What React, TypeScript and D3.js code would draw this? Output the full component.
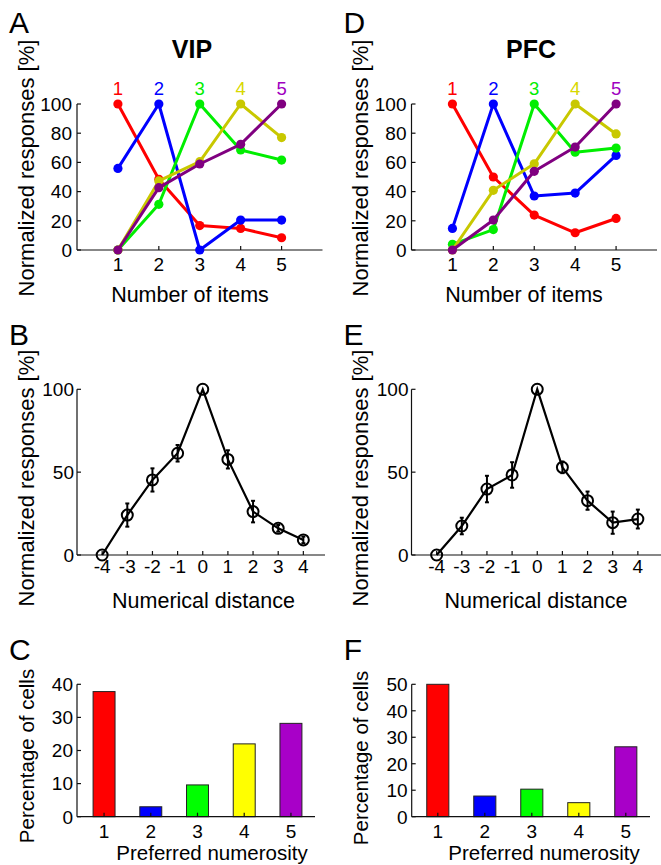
import * as d3 from "d3";

const items = [1, 2, 3, 4, 5];
const prefColors = ["#ff0000", "#0000ff", "#00ee00", "#c8c800", "#800080"];
const prefLabelColors = ["#ff0000", "#0000ff", "#00ee00", "#d8d800", "#a000c0"];

// normalized tuning curves, one row per preferred numerosity
const vipTuning = [
  [100, 48.4, 16.7, 14.8, 8.4],
  [55.9, 100, 0, 20.5, 20.5],
  [0, 31.3, 100, 68.5, 61.6],
  [0, 47.3, 60.5, 100, 77],
  [0, 42.7, 58.9, 72.4, 100],
];
const pfcTuning = [
  [100, 50, 23.9, 11.8, 21.6],
  [14.8, 100, 37, 39, 64.8],
  [3.9, 14, 100, 67, 69.8],
  [0, 40.9, 59, 100, 79.5],
  [0, 20.5, 53.9, 70.5, 100],
];

const distances = [-4, -3, -2, -1, 0, 1, 2, 3, 4];
const vipDist = [0, 24.1, 45.3, 61.4, 100, 57.7, 26.2, 16.1, 9.1];
const vipDistErr = [0, 7, 7, 5, 0, 5.5, 6.5, 2, 2];
const pfcDist = [0, 17.5, 39.8, 48.3, 100, 52.9, 32.8, 19.5, 21.7];
const pfcDistErr = [0, 5, 8, 7.7, 0, 3.5, 5.5, 6.7, 5.7];

const numerosities = [1, 2, 3, 4, 5];
const barColors = ["#ff0000", "#0000ff", "#00ff00", "#ffff00", "#a800c8"];
const vipPct = [37.8, 3, 9.6, 22, 28.2];
const pfcPct = [50, 7.8, 10.4, 5.3, 26.4];

const font = "'Liberation Sans', Arial, sans-serif";

function YAxis({ y, x0, ticks, tickX }) {
  return (
    <g>
      <line x1={x0} x2={x0} y1={y(ticks[ticks.length - 1])} y2={y(ticks[0])} stroke="#111" strokeWidth={1.2} />
      {ticks.map((t) => (
        <g key={t}>
          <line x1={x0} x2={x0 + 4} y1={y(t)} y2={y(t)} stroke="#111" strokeWidth={1.2} />
          <text x={tickX} y={y(t)} dy="0.36em" textAnchor="end" fontSize={19} fontFamily={font}>{t}</text>
        </g>
      ))}
    </g>
  );
}

function XAxis({ x, y0, x0, x1, ticks, labelY }) {
  return (
    <g>
      <line x1={x0} x2={x1} y1={y0} y2={y0} stroke="#111" strokeWidth={1.2} />
      {ticks.map((t) => (
        <g key={t}>
          <line x1={x(t)} x2={x(t)} y1={y0} y2={y0 - 4} stroke="#111" strokeWidth={1.2} />
          <text x={x(t)} y={labelY} textAnchor="middle" fontSize={19} fontFamily={font}>{t}</text>
        </g>
      ))}
    </g>
  );
}

function TuningPanel({ ax, letter, title, titleX, rows, xLabelX, yLabelX }) {
  const x = d3.scaleLinear().domain([0, 6]).range([ax, ax + 245.5]);
  const y = d3.scaleLinear().domain([0, 100]).range([250, 104]);
  const line = d3.line<number>().x((d, i) => x(items[i])).y((d) => y(d));
  return (
    <g>
      <text x={ax - 68} y={33} fontSize={30} fontFamily={font}>{letter}</text>
      <text x={titleX} y={58} textAnchor="middle" fontSize={25} fontWeight="bold" fontFamily={font}>{title}</text>
      <text transform={`translate(${yLabelX},168) rotate(-90)`} textAnchor="middle" fontSize={22} fontFamily={font}>Normalized responses [%]</text>
      <YAxis y={y} x0={ax} ticks={[0, 20, 40, 60, 80, 100]} tickX={ax - 5} />
      <XAxis x={x} y0={250} x0={ax} x1={ax + 245.5} ticks={items} labelY={271} />
      <text x={xLabelX} y={302} textAnchor="middle" fontSize={21.5} fontFamily={font}>Number of items</text>
      {items.map((n, i) => (
        <text key={n} x={x(n)} y={95} textAnchor="middle" fontSize={18.5} fill={prefLabelColors[i]} fontFamily={font}>{n}</text>
      ))}
      {rows.map((r, k) => (
        <g key={k}>
          <path d={line(r)} fill="none" stroke={prefColors[k]} strokeWidth={3} strokeLinejoin="round" />
          {r.map((v, i) => (
            <circle key={i} cx={x(items[i])} cy={y(v)} r={4.6} fill={prefColors[k]} />
          ))}
        </g>
      ))}
    </g>
  );
}

function DistancePanel({ ax, axEnd, letter, vals, errs, xLabelX, yLabelX }) {
  const x = d3.scaleLinear().domain([-5, 5]).range([ax, ax + 251.5]);
  const y = d3.scaleLinear().domain([0, 100]).range([555, 389.3]);
  const line = d3.line<number>().x((d, i) => x(distances[i])).y((d) => y(d));
  return (
    <g>
      <text x={ax - 68} y={345} fontSize={30} fontFamily={font}>{letter}</text>
      <text transform={`translate(${yLabelX},478) rotate(-90)`} textAnchor="middle" fontSize={22} fontFamily={font}>Normalized responses [%]</text>
      <YAxis y={y} x0={ax} ticks={[0, 50, 100]} tickX={ax - 3} />
      <XAxis x={x} y0={555} x0={ax} x1={axEnd} ticks={distances} labelY={573} />
      <text x={xLabelX} y={608} textAnchor="middle" fontSize={21.5} fontFamily={font}>Numerical distance</text>
      <path d={line(vals)} fill="none" stroke="#000" strokeWidth={2.2} />
      {vals.map((v, i) =>
        errs[i] > 0 ? (
          <g key={"e" + i} stroke="#000" strokeWidth={2}>
            <line x1={x(distances[i])} x2={x(distances[i])} y1={y(v - errs[i])} y2={y(v + errs[i])} />
            <line x1={x(distances[i]) - 2} x2={x(distances[i]) + 2} y1={y(v - errs[i])} y2={y(v - errs[i])} />
            <line x1={x(distances[i]) - 2} x2={x(distances[i]) + 2} y1={y(v + errs[i])} y2={y(v + errs[i])} />
          </g>
        ) : null
      )}
      {vals.map((v, i) => (
        <circle key={i} cx={x(distances[i])} cy={y(v)} r={5.5} fill="none" stroke="#000" strokeWidth={2} />
      ))}
    </g>
  );
}

function BarPanel({ ax, axEnd, r0, r1, letter, vals, yMax, yTicks, xLabelX, yLabelX, yLabelY }) {
  const x = d3.scaleLinear().domain([0.5, 5.5]).range([r0, r1]);
  const y = d3.scaleLinear().domain([0, yMax]).range([816.7, 684.3]);
  const bw = x(1.235) - x(1);
  return (
    <g>
      <text x={ax - 68} y={660} fontSize={30} fontFamily={font}>{letter}</text>
      <text transform={`translate(${yLabelX},${yLabelY}) rotate(-90)`} textAnchor="middle" fontSize={20.5} fontFamily={font}>Percentage of cells</text>
      {vals.map((v, i) => (
        <rect key={i} x={x(numerosities[i]) - bw} y={y(v)} width={bw * 2} height={y(0) - y(v)} fill={barColors[i]} stroke="#222" strokeWidth={1} />
      ))}
      <YAxis y={y} x0={ax} ticks={yTicks} tickX={ax - 4} />
      <XAxis x={x} y0={816.7} x0={ax} x1={axEnd} ticks={numerosities} labelY={838} />
      <text x={xLabelX} y={859.5} textAnchor="middle" fontSize={20.5} fontFamily={font}>Preferred numerosity</text>
    </g>
  );
}

export default function App() {
  return (
    <svg width={661} height={865} style={{ position: "absolute", left: 0, top: 0, background: "#fff" }}>
      <rect width={661} height={865} fill="#fff" />
      <TuningPanel ax={77} letter="A" title="VIP" titleX={192} rows={vipTuning} xLabelX={190} yLabelX={34} />
      <TuningPanel ax={411.5} letter="D" title="PFC" titleX={531} rows={pfcTuning} xLabelX={524} yLabelX={368} />
      <DistancePanel ax={77} axEnd={325} letter="B" vals={vipDist} errs={vipDistErr} xLabelX={203.5} yLabelX={34} />
      <DistancePanel ax={411.5} axEnd={661} letter="E" vals={pfcDist} errs={pfcDistErr} xLabelX={536} yLabelX={368} />
      <BarPanel ax={77} axEnd={315} r0={80.7} r1={314.3} letter="C" vals={vipPct} yMax={40} yTicks={[0, 10, 20, 30, 40]} xLabelX={212} yLabelX={34} yLabelY={756} />
      <BarPanel ax={411.7} axEnd={650} r0={414.3} r1={649.3} letter="F" vals={pfcPct} yMax={50} yTicks={[0, 10, 20, 30, 40, 50]} xLabelX={544} yLabelX={368} yLabelY={758} />
    </svg>
  );
}
